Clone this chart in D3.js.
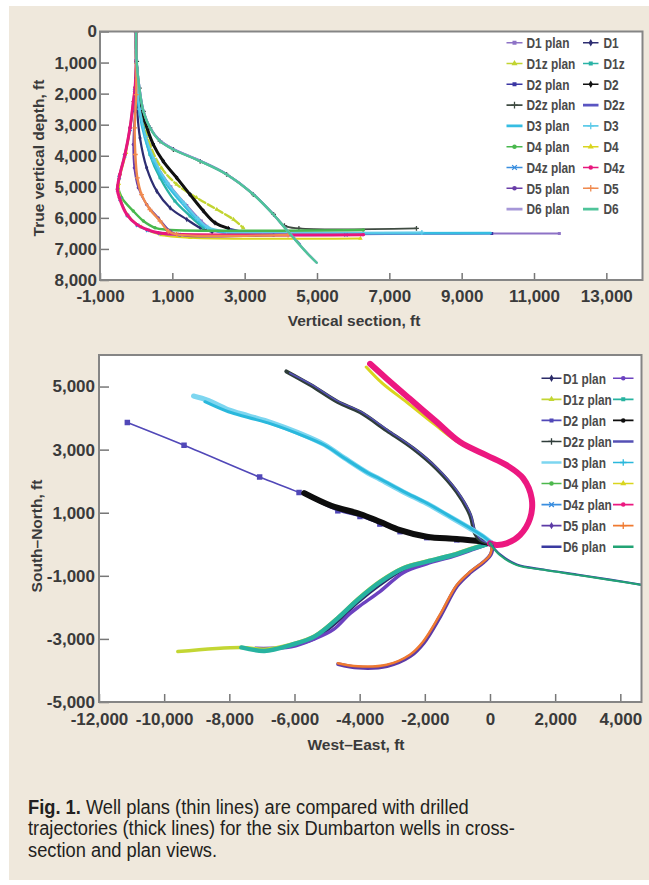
<!DOCTYPE html>
<html>
<head>
<meta charset="utf-8">
<script src="https://cdn.jsdelivr.net/npm/d3@7/dist/d3.min.js"></script>
<style>
  body { margin: 0; background: #fff; }
  .tick text { font-family: "Liberation Sans", Arial, sans-serif; font-weight: bold; font-size: 17px; fill: #3a3a3a; }
  .tick line { stroke: #777; stroke-width: 1.5; }
  .ttl { font-family: "Liberation Sans", Arial, sans-serif; font-weight: bold; font-size: 15.5px; fill: #3a3a3a; }
  .leg { font-family: "Liberation Sans", Arial, sans-serif; font-weight: bold; font-size: 14.5px; fill: #4a4a4a; }
  .cap { font-family: "Liberation Sans", Arial, sans-serif; font-size: 20px; fill: #231f20; }
</style>
</head>
<body>
<svg id="fig" width="649" height="885"></svg>
<script>
// series names, legend order (plan, drilled)
var names = ["D1 plan", "D1", "D1z plan", "D1z", "D2 plan", "D2", "D2z plan", "D2z", "D3 plan", "D3",
             "D4 plan", "D4", "D4z plan", "D4z", "D5 plan", "D5", "D6 plan", "D6"];

// cross-section view: [vertical section ft, true vertical depth ft]
var secD1plan  = [[0,0],[20,1500],[110,2600],[290,3500],[570,4300],[960,5000],[1400,5600],[1800,6100],[2150,6420],[2700,6500],[9830,6500],[11700,6500]];
var secD1      = [[0,0],[10,1200],[32,2570],[106,3430],[290,4390],[570,5140],[940,5680],[1400,6050],[1770,6320],[2100,6450]];
var secD1zplan = [[0,0],[14,1500],[150,2670],[380,3640],[700,4390],[1120,4920],[1670,5350],[2230,5730],[2690,6050],[2960,6320]];
var secD1z     = [[0,0],[14,1500],[88,2350],[200,3100],[380,3960],[660,4710],[1070,5460],[1490,5940],[1860,6320]];
var secD2plan  = [[0,0],[14,1170],[90,2030],[245,2890],[475,3640],[750,4180],[1120,4710],[1490,5250],[1860,5780],[2180,6160],[2550,6340],[3200,6480],[6000,6500],[9830,6500]];
var secD2      = [[0,0],[14,1170],[88,2030],[245,2890],[475,3640],[750,4180],[1120,4710],[1490,5250],[1860,5780],[2180,6160],[2550,6340]];
var secD2zplan = [[0,0],[14,960],[88,1820],[200,2570],[380,3100],[660,3530],[1030,3800],[1770,4180],[2500,4600],[3240,5250],[3800,5890],[4100,6250],[4500,6340],[7750,6340]];
var secD2z     = [[0,0],[14,960],[90,1800],[200,2540],[380,3080],[660,3510],[1030,3780],[1770,4160],[2500,4590],[3240,5230],[3790,5880],[4070,6260],[4530,6850]];
var secD3plan  = [[0,0],[18,1500],[88,2570],[245,3430],[475,4180],[840,4920],[1300,5570],[1670,6050],[1950,6320],[2400,6460],[3500,6490],[9800,6490]];
var secD3      = [[0,0],[18,1450],[95,2500],[260,3380],[500,4130],[870,4880],[1330,5530],[1700,6020],[1980,6300],[2500,6440],[3500,6470],[7900,6470]];
var secD4plan  = [[0,0],[0,950],[-30,1800],[-78,2250],[-170,3100],[-310,3960],[-450,4600],[-500,4950],[-400,5350],[-80,5780],[200,6100],[520,6320],[840,6380],[6280,6390]];
var secD4      = [[0,0],[0,1000],[-60,2200],[-280,3900],[-480,4900],[-430,5400],[-200,5950],[150,6300],[700,6550],[1500,6640],[6200,6660]];
var secD4zplan = [[0,0],[0,950],[-40,1900],[-170,3150],[-320,4000],[-470,4700],[-510,5100],[-440,5400],[-240,5920],[40,6240],[320,6400],[650,6500],[1200,6540],[5800,6550]];
var secD4z     = [[0,0],[0,950],[-30,1800],[-78,2250],[-170,3100],[-310,3960],[-450,4600],[-520,5090],[-465,5350],[-260,5890],[14,6210],[290,6370],[610,6480],[1120,6530],[6280,6540]];
var secD5plan  = [[0,0],[0,1500],[-32,2570],[-78,3640],[-50,4390],[60,5030],[290,5570],[610,6000],[940,6430],[1210,6555],[3800,6560]];
var secD5      = [[0,0],[0,2030],[-40,3100],[-23,3960],[33,4710],[150,5250],[380,5730],[660,6100],[890,6430],[1120,6530],[4200,6550]];
var secD6plan  = [[0,0],[14,960],[90,1810],[200,2560],[380,3090],[660,3520],[1030,3790],[1770,4170],[2500,4600],[3240,5240],[3790,5890],[4070,6260],[4350,6640],[4720,7120],[4990,7440]];
var secD6      = [[0,0],[14,960],[88,1820],[200,2570],[383,3100],[660,3530],[1028,3800],[1766,4175],[2503,4604],[3241,5247],[3794,5890],[4071,6265],[4348,6641],[4716,7123],[4993,7445]];

// plan view: [west-east ft, south-north ft]
var mapD1plan  = [[0,30],[-100,-20],[-510,-150],[-1130,-370],[-1940,-590],[-2660,-820],[-3380,-1300],[-4050,-1850],[-4670,-2450],[-5380,-3000],[-6100,-3230],[-6920,-3330]];
var mapD1      = [[0,30],[-510,-160],[-1130,-380],[-1940,-620],[-2660,-900],[-3380,-1500],[-3990,-1950],[-4300,-2200],[-4800,-2700],[-5380,-3000],[-6100,-3250],[-7200,-3300]];
var mapD1zplan = [[0,30],[-100,10],[-510,-110],[-1130,-320],[-1940,-530],[-2660,-740],[-3380,-1170],[-4050,-1720],[-4670,-2320],[-5380,-2900],[-6100,-3170],[-6920,-3330],[-7630,-3270],[-9580,-3400]];
var mapD1z     = [[0,30],[-100,0],[-510,-130],[-1130,-340],[-1940,-550],[-2660,-760],[-3380,-1200],[-4050,-1750],[-4670,-2340],[-5380,-2920],[-6100,-3190],[-6920,-3380],[-7630,-3270]];
var mapD2plan  = [[0,30],[-200,60],[-1020,140],[-1940,210],[-2760,400],[-3380,640],[-3990,880],[-4670,1060],[-5860,1640],[-7070,2130],[-9390,3140],[-11130,3860]];
var mapD2      = [[0,30],[-200,80],[-1020,165],[-1940,240],[-2760,450],[-3380,715],[-3990,960],[-4870,1220],[-5700,1620]];
var mapD2zplan = [[0,30],[-300,140],[-460,350],[-610,930],[-1020,1660],[-1640,2400],[-2350,3030],[-3170,3610],[-3990,4190],[-4670,4510],[-5490,5040],[-6250,5480]];
var mapD2z     = [[0,30],[-280,150],[-440,380],[-590,950],[-1000,1680],[-1620,2420],[-2330,3050],[-3150,3630],[-3970,4210],[-4650,4530],[-5470,5060],[-6150,5430]];
var mapD3plan  = [[0,80],[-200,240],[-610,500],[-1330,930],[-1940,1290],[-2660,1660],[-3380,2060],[-3750,2260],[-4460,2730],[-5080,3160],[-5890,3540],[-6710,3860],[-7430,4080],[-8040,4270],[-8650,4560],[-9100,4700]];
var mapD3      = [[0,80],[-200,250],[-600,510],[-1320,940],[-1930,1300],[-2650,1670],[-3370,2070],[-3740,2260],[-4450,2720],[-5070,3140],[-5880,3500],[-6700,3810],[-7420,4020],[-8030,4200],[-8750,4520]];
var mapD4plan  = [[0,30],[200,-20],[510,30],[920,290],[1230,820],[1280,1450],[1020,2090],[510,2510],[-100,2820],[-920,3240],[-1640,3880],[-2460,4610],[-3170,5250],[-3680,5720]];
var mapD4      = [[0,30],[200,-20],[510,30],[920,290],[1230,820],[1280,1450],[1020,2090],[510,2510],[-100,2800],[-920,3200],[-1700,3800],[-2550,4500],[-3300,5100],[-3800,5620]];
var mapD4zplan = [[0,30],[200,-20],[510,40],[920,300],[1220,830],[1270,1450],[1010,2080],[500,2500],[-110,2810],[-930,3230],[-1650,3870],[-2470,4600],[-3180,5240],[-3700,5700]];
var mapD4z     = [[0,30],[200,-20],[510,30],[920,290],[1230,820],[1280,1450],[1020,2090],[510,2510],[-100,2820],[-920,3240],[-1640,3880],[-2460,4610],[-3170,5250],[-3680,5720]];
var mapD5plan  = [[0,30],[60,-40],[20,-330],[-190,-560],[-600,-890],[-1010,-1320],[-1520,-2270],[-2030,-3120],[-2440,-3540],[-3160,-3860],[-4040,-3910],[-4660,-3800]];
var mapD5      = [[0,30],[50,-20],[0,-340],[-200,-550],[-610,-870],[-1020,-1290],[-1540,-2240],[-2050,-3080],[-2460,-3500],[-3170,-3820],[-4050,-3870],[-4670,-3770]];
var mapD6plan  = [[0,30],[310,-320],[820,-640],[1640,-800],[2660,-960],[3680,-1120],[4700,-1290]];
var mapD6      = [[0,30],[300,-340],[820,-660],[1640,-810],[2660,-970],[3680,-1130],[4700,-1300]];

var secTicksX = [-1000, 1000, 3000, 5000, 7000, 9000, 11000, 13000];
var secTicksY = [0, 1000, 2000, 3000, 4000, 5000, 6000, 7000, 8000];
var mapTicksX = [-12000, -10000, -8000, -6000, -4000, -2000, 0, 2000, 4000];
var mapTicksY = [-5000, -3000, -1000, 1000, 3000, 5000];

var secData = [secD1plan, secD1, secD1zplan, secD1z, secD2plan, secD2, secD2zplan, secD2z, secD3plan, secD3,
               secD4plan, secD4, secD4zplan, secD4z, secD5plan, secD5, secD6plan, secD6];
var mapData = [mapD1plan, mapD1, mapD1zplan, mapD1z, mapD2plan, mapD2, mapD2zplan, mapD2z, mapD3plan, mapD3,
               mapD4plan, mapD4, mapD4zplan, mapD4z, mapD5plan, mapD5, mapD6plan, mapD6];

// styles: [colour, line width, marker, marker drawn on the line]
var secStyle = [
  ["#8d72c6", 2, "square", 1], ["#2e2e72", 2.2, "diamond", 1], ["#c2d431", 2.4, "triangle", 1], ["#2ab3a6", 2.4, "square", 1],
  ["#3b36a3", 1.8, "square", 1], ["#111111", 3, "diamond", 1], ["#3f4b42", 1.8, "plus", 1], ["#5a55c2", 2.2, null, 0],
  ["#36bde2", 2.6, null, 0], ["#5fcbe9", 2, "plus", 1], ["#49b84e", 2.4, "circle", 1], ["#d9d51e", 2, "triangle", 1],
  ["#3a8edf", 2, "times", 1], ["#e8167d", 3, "circle", 1], ["#6a3ea8", 2, "circle", 1], ["#f08a4f", 2.4, "plus", 1],
  ["#a697d8", 2.4, null, 0], ["#4fc49a", 2.4, null, 0]
];
var mapStyle = [
  ["#2b2b68", 2.5, "diamond", 0], ["#6c42c0", 3.5, "circle", 0], ["#c3d633", 3.5, "triangle", 0], ["#27b3a0", 4.5, "square", 0],
  ["#5148b8", 1.6, "square", 1], ["#0d0d0d", 6, "circle", 0], ["#2f3d3a", 4, "plus", 0], ["#5550b5", 1.5, null, 0],
  ["#7dd6f0", 5, null, 0], ["#2ab8dc", 3, "plus", 0], ["#4cb84c", 3, "circle", 0], ["#d9d51e", 3, "triangle", 0],
  ["#3a8edf", 3, "times", 0], ["#ec1880", 6, "circle", 0], ["#5d3ba6", 4, "diamond", 0], ["#f07a30", 2.5, "plus", 0],
  ["#3a3aa0", 2.2, null, 0], ["#22a374", 2, null, 0]
];

var svg = d3.select("#fig");
svg.append("rect").attr("x", 9).attr("y", 6).attr("width", 640).attr("height", 874).attr("fill", "#efe8dc");

var symbols = { square: d3.symbolSquare, circle: d3.symbolCircle, triangle: d3.symbolTriangle,
                diamond: d3.symbolDiamond, plus: d3.symbolPlus, times: d3.symbolTimes };

function marker(g, type, color, size, x, y) {
  var p = g.append("path")
    .attr("d", d3.symbol().type(symbols[type]).size(size)())
    .attr("transform", "translate(" + x + "," + y + ")");
  if (type == "plus" || type == "times") p.attr("fill", "none").attr("stroke", color).attr("stroke-width", 1.3);
  else p.attr("fill", color);
}

// plain hyphen for negatives, as in the figure
function fmt(d) { return d3.format(",")(d).replace("\u2212", "-"); }

function panel(o) {
  var x = d3.scaleLinear().domain(o.xd).range(o.xr);
  var y = d3.scaleLinear().domain(o.yd).range(o.yr);
  var top = Math.min(o.yr[0], o.yr[1]), bot = Math.max(o.yr[0], o.yr[1]);

  svg.append("rect")
    .attr("x", o.xr[0]).attr("y", top).attr("width", o.xr[1] - o.xr[0]).attr("height", bot - top)
    .attr("fill", "#fff");

  svg.append("clipPath").attr("id", o.id).append("rect")
    .attr("x", o.xr[0]).attr("y", top).attr("width", o.xr[1] - o.xr[0]).attr("height", bot - top);

  var gx = svg.append("g").attr("transform", "translate(0," + bot + ")")
    .call(d3.axisBottom(x).tickValues(o.tx).tickSize(-o.tick).tickPadding(o.padX).tickFormat(fmt));
  var gy = svg.append("g").attr("transform", "translate(" + o.xr[0] + ",0)")
    .call(d3.axisLeft(y).tickValues(o.ty).tickSize(-o.tick - 2).tickPadding(o.padY).tickFormat(fmt));
  gx.select(".domain").remove();
  gy.select(".domain").remove();

  var plot = svg.append("g").attr("clip-path", "url(#" + o.id + ")");
  var line = d3.line()
    .x(function(d) { return x(d[0]); })
    .y(function(d) { return y(d[1]); })
    .curve(d3.curveCatmullRom.alpha(0.5));

  // each well: its line, then its markers, so later wells sit on top
  o.data.forEach(function(pts, i) {
    var s = o.style[i];
    var p = plot.append("path")
      .attr("d", line(pts))
      .attr("fill", "none")
      .attr("stroke", s[0])
      .attr("stroke-width", s[1])
      .attr("stroke-linejoin", "round")
      .attr("stroke-linecap", "round");
    if (o.dash && o.dash[i]) p.attr("stroke-dasharray", o.dash[i]);
    if (s[2] && s[3]) {
      pts.forEach(function(d) { marker(plot, s[2], s[0], o.msize, x(d[0]), y(d[1])); });
    }
  });

  svg.append("rect")
    .attr("x", o.xr[0]).attr("y", top).attr("width", o.xr[1] - o.xr[0]).attr("height", bot - top)
    .attr("fill", "none").attr("stroke", "#858585").attr("stroke-width", 2);

  // legend, two columns: plan | drilled
  var lg = svg.append("g").attr("clip-path", "url(#" + o.id + ")");
  names.forEach(function(n, i) {
    var row = Math.floor(i / 2), col = i % 2;
    var ly = o.leg.y0 + row * o.leg.dy;
    var xs = o.leg.cols[col];
    var s = o.style[i];
    lg.append("line")
      .attr("x1", xs[0]).attr("x2", xs[1]).attr("y1", ly).attr("y2", ly)
      .attr("stroke", s[0]).attr("stroke-width", s[2] ? 1.6 : 2.6);
    if (s[2]) marker(lg, s[2], s[0], 16, (xs[0] + xs[1]) / 2, ly);
    if (xs[2] != null) {
      lg.append("text").attr("class", "leg")
        .attr("transform", "translate(" + xs[2] + "," + ly + ") scale(0.82,1)")
        .attr("dy", "0.36em").text(n);
    }
  });

  svg.append("text").attr("class", "ttl")
    .attr("x", o.xt[0]).attr("y", o.xt[1]).attr("text-anchor", "middle").text(o.xlabel);
  svg.append("text").attr("class", "ttl")
    .attr("text-anchor", "middle")
    .attr("transform", "translate(" + o.yt[0] + "," + o.yt[1] + ") rotate(-90)").text(o.ylabel);
}

panel({
  id: "clipSec", xd: [-1000, 14000], xr: [100, 642.5], yd: [0, 8000], yr: [31.5, 280],
  tx: secTicksX, ty: secTicksY, tick: 7, padX: 10, padY: 3,
  data: secData, style: secStyle, msize: 9,
  dash: { 2: "7,3" },
  leg: { y0: 42.7, dy: 20.8, cols: [[506.5, 522.5, 526.5], [583, 598.5, 603.5]] },
  xlabel: "Vertical section, ft", xt: [354, 326],
  ylabel: "True vertical depth, ft", yt: [44, 158]
});

panel({
  id: "clipMap", xd: [-12000, 4650], xr: [99, 641.5], yd: [-5000, 6000], yr: [702, 355],
  tx: mapTicksX, ty: mapTicksY, tick: 8, padX: 11, padY: 4,
  data: mapData, style: mapStyle, msize: 30,
  leg: { y0: 378.3, dy: 21.05, cols: [[541.5, 561.5, 563], [613, 633.5, null]] },
  xlabel: "West\u2013East, ft", xt: [356, 750],
  ylabel: "South\u2013North, ft", yt: [42, 536]
});

var caption = [
  [["Fig. 1.", true], [" Well plans (thin lines) are compared with drilled", false]],
  [["trajectories (thick lines) for the six Dumbarton wells in cross-", false]],
  [["section and plan views.", false]]
];
var cg = svg.append("g").attr("transform", "translate(28,0) scale(0.915,1)");
caption.forEach(function(parts, i) {
  var t = cg.append("text").attr("class", "cap").attr("x", 0).attr("y", 814 + i * 21.5);
  parts.forEach(function(p) {
    t.append("tspan").attr("font-weight", p[1] ? "bold" : "normal").text(p[0]);
  });
});
</script>
</body>
</html>
